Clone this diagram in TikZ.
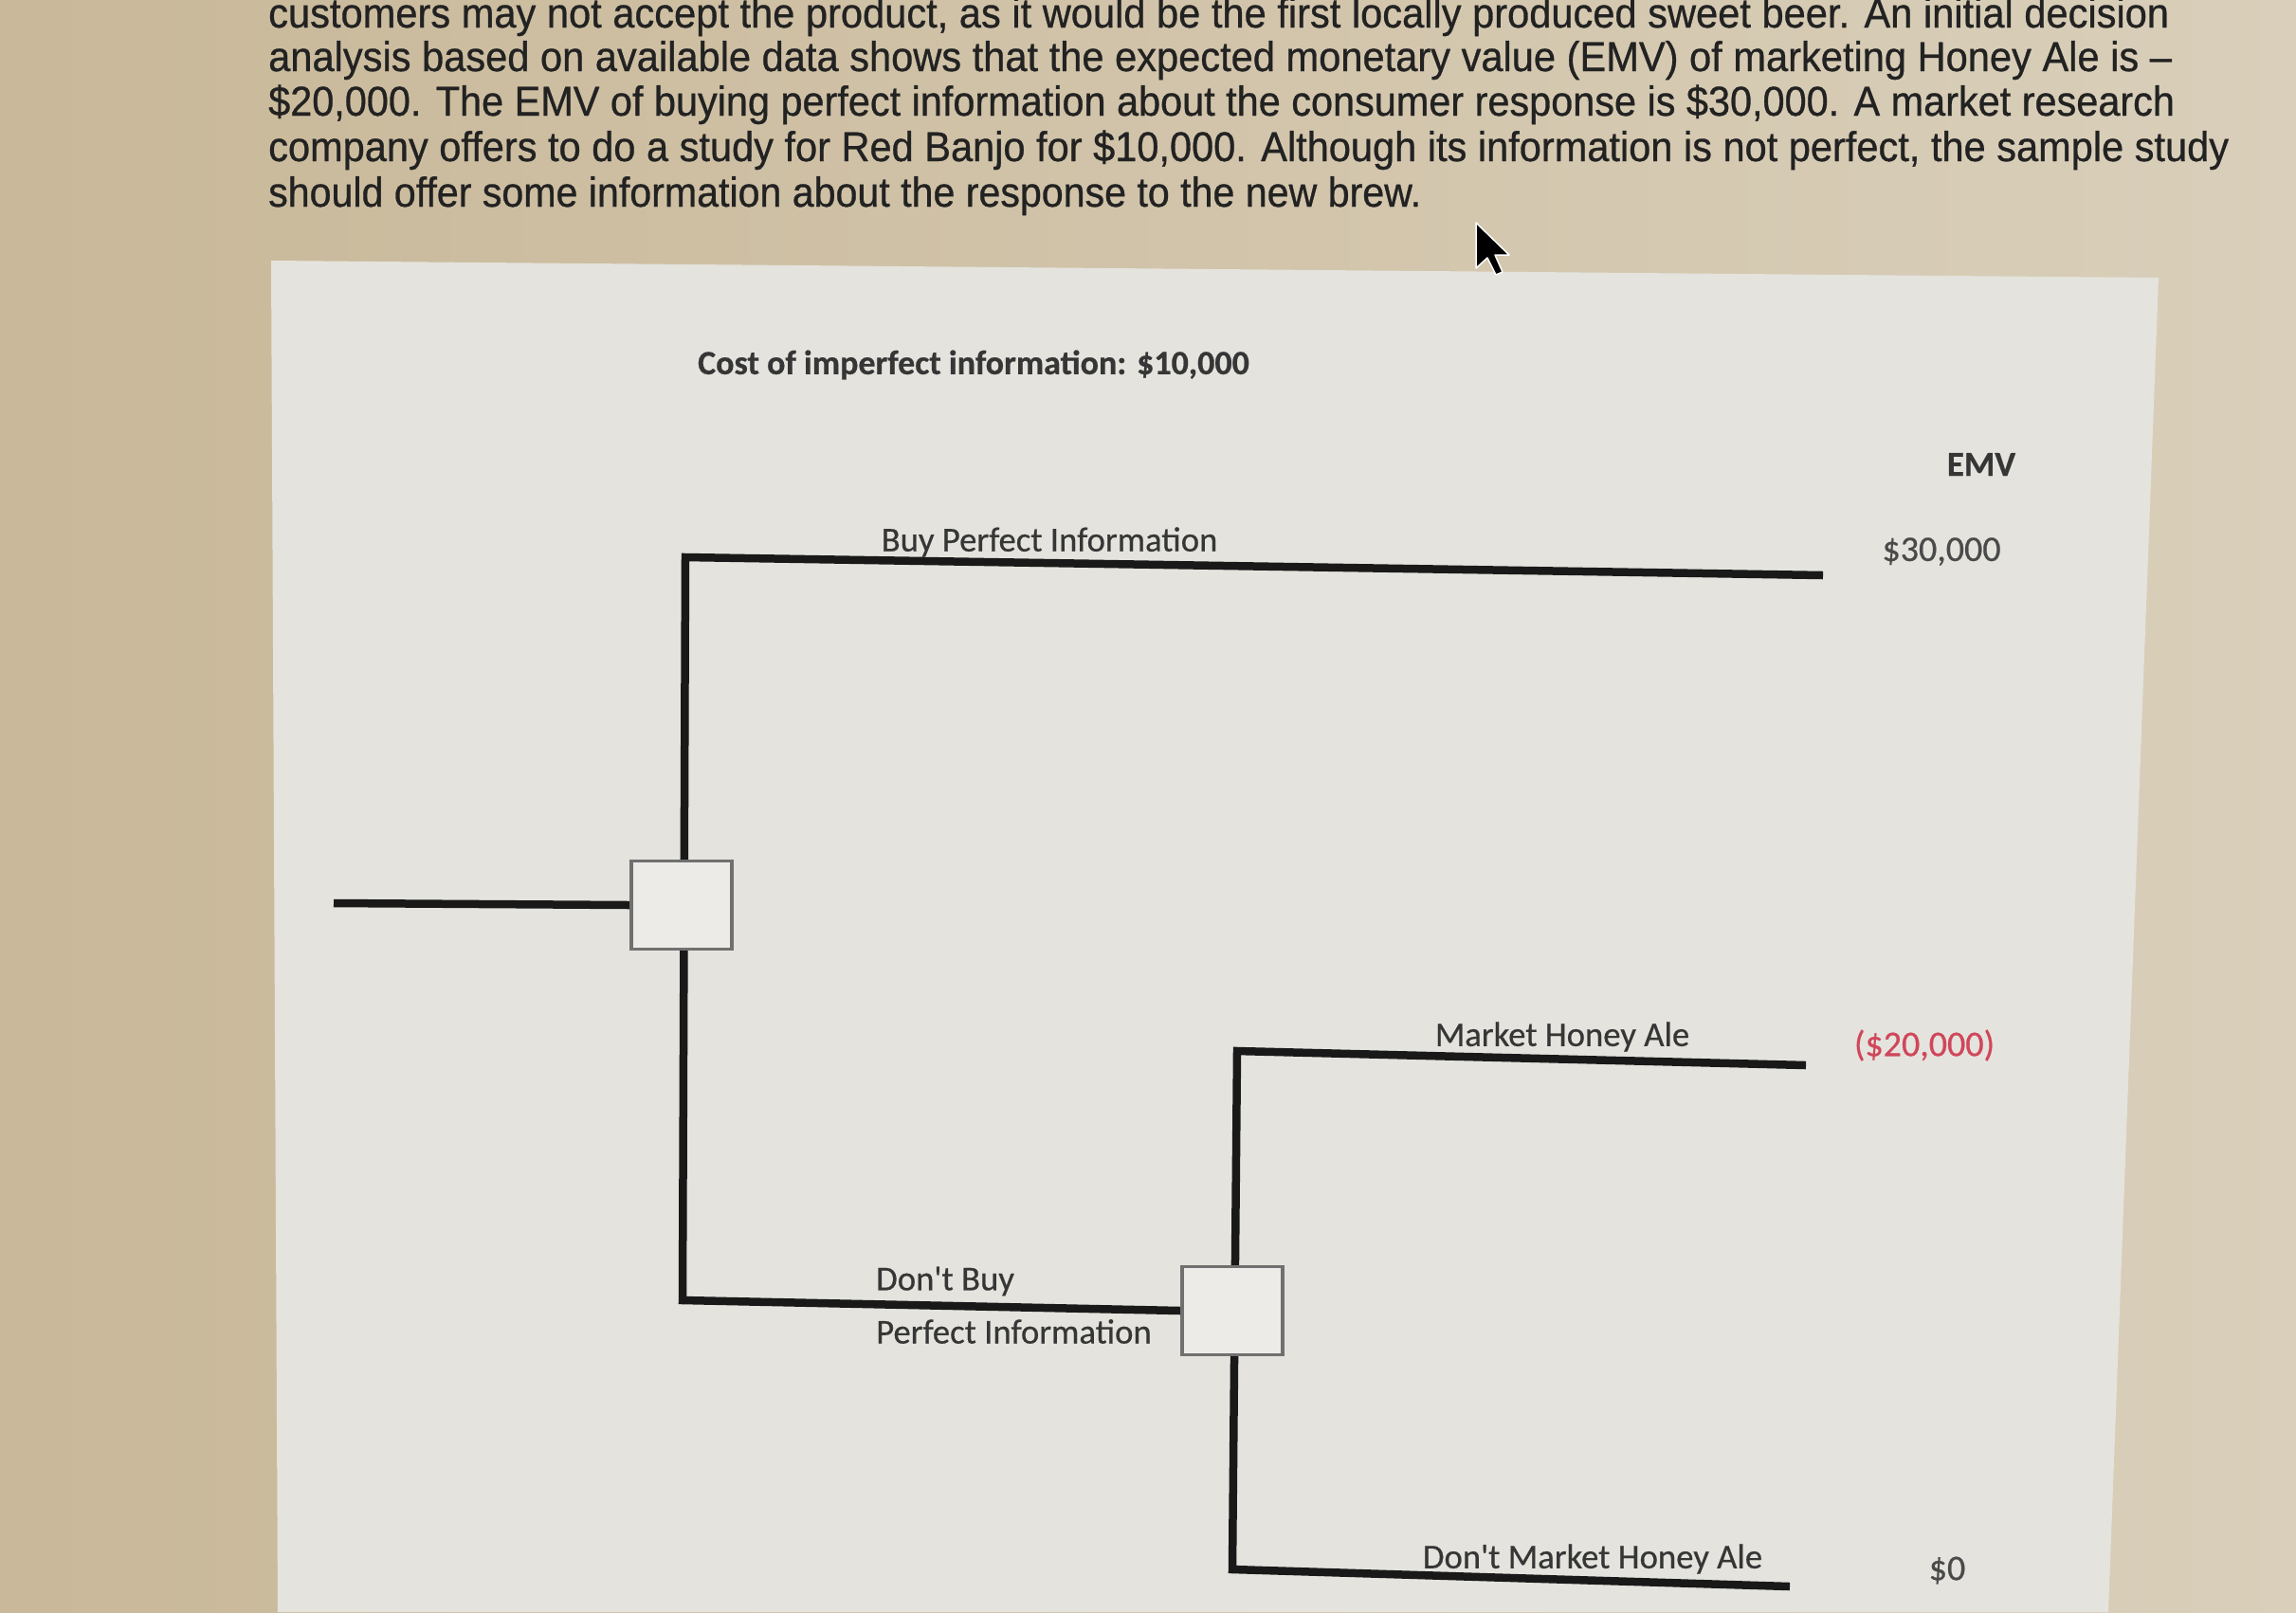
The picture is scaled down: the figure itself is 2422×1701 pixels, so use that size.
\documentclass[tikz,border=0pt]{standalone}
\usepackage{fontspec}
\usepackage{graphicx}
\setmainfont{Liberation Sans}
\newfontfamily\parafont{Liberation Sans}[FakeBold=0.7]
\newfontfamily\calfont{Carlito}[FakeBold=0.5]
\definecolor{bgtan}{HTML}{C9B899}
\definecolor{bgtanlight}{HTML}{D9CFBA}
\definecolor{panelfill}{HTML}{E4E3DD}
\definecolor{boxfill}{HTML}{ECEBE7}
\definecolor{boxedge}{HTML}{707070}
\definecolor{textdark}{HTML}{222222}
\definecolor{labelgrey}{HTML}{363636}
\definecolor{valgrey}{HTML}{4A4A4A}
\definecolor{valred}{HTML}{D0465A}
\tikzset{
  paraline/.style={anchor=base west, inner sep=0pt, text=textdark, font=\parafont\fontsize{44}{46}\selectfont},
  branch/.style={line width=8.5pt, draw=black!90, line join=miter},
  decbox/.style={draw=boxedge, line width=3.5pt, fill=boxfill, minimum width=106pt, minimum height=93pt, inner sep=0pt},
  treelabel/.style={inner sep=0pt, text=labelgrey, font=\calfont\fontsize{36.7}{40}\selectfont},
  costlabel/.style={inner sep=0pt, text=labelgrey, font=\calfont\bfseries\fontsize{36}{40}\selectfont},
  emvval/.style={inner sep=0pt, text=valgrey, font=\calfont\fontsize{38}{40}\selectfont},
}
\begin{document}
\begin{tikzpicture}[x=1pt,y=-1pt]
\useasboundingbox (0,0) rectangle (2422,1701);
\clip (0,0) rectangle (2422,1701);
% background
\shade[left color=bgtan, right color=bgtanlight] (0,0) rectangle (2422,1701);
% panel
\fill[panelfill] (286,275) -- (2277,293) -- (2224,1701) -- (293,1701) -- cycle;
% paragraph
\node[paraline] (p1) at (283,29) {\resizebox{2005pt}{\height}{customers may not accept the product, as it would be the first locally produced sweet beer. An initial decision}};
\node[paraline] (p2) at (283,75) {\resizebox{2008pt}{\height}{analysis based on available data shows that the expected monetary value (EMV) of marketing Honey Ale is –}};
\node[paraline] (p3) at (283,122) {\resizebox{2011pt}{\height}{\$20,000. The EMV of buying perfect information about the consumer response is \$30,000. A market research}};
\node[paraline] (p4) at (283,170) {\resizebox{2068pt}{\height}{company offers to do a study for Red Banjo for \$10,000. Although its information is not perfect, the sample study}};
\node[paraline] (p5) at (283,218) {\resizebox{1216pt}{\height}{should offer some information about the response to the new brew.}};
% cursor
\filldraw[fill=black, draw=white, line width=1.5pt, line join=round]
  (1557,235) -- (1557,283) -- (1569,272) -- (1578,290) -- (1585,287) -- (1577,269) -- (1592,269) -- cycle;
% cost label
\node[costlabel] (cost) at (1027,385) {Cost of imperfect information: \$10,000};
% tree coordinates
\coordinate (start) at (352,953);
\coordinate (t1) at (723,588);
\coordinate (e1) at (1923,607);
\coordinate (b1) at (720,1372);
\coordinate (t2) at (1305,1109);
\coordinate (e2) at (1905,1124);
\coordinate (b2) at (1300,1656);
\coordinate (e3) at (1888,1674);
% boxes (positions)
\path (719,955) node[decbox, draw=none, fill=none] (d1) {};
\path (1300,1383) node[decbox, draw=none, fill=none] (d2) {};
% branches
\draw[branch] (start) -- (d1.west);
\draw[branch] (e1) -- (t1) -- (b1) -- (d2.west);
\draw[branch] (e2) -- (t2) -- (b2) -- (e3);
% boxes drawn on top
\node[decbox] (d1box) at (d1) {};
\node[decbox] (d2box) at (d2) {};
% labels
\node[treelabel] (lbuy) at (1107,572) {Buy Perfect Information};
\node[treelabel, anchor=west] (ldont1) at (924,1352) {Don't Buy};
\node[treelabel, anchor=west] (ldont2) at (924,1405) {Perfect Information};
\node[treelabel] (lmarket) at (1648,1094) {Market Honey Ale};
\node[treelabel] (lnomarket) at (1680,1645) {Don't Market Honey Ale};
% EMV column
\node[costlabel, font=\calfont\bfseries\fontsize{37}{40}\selectfont] (emv) at (2090,490) {EMV};
\node[emvval] (v1) at (2048,582) {\$30,000};
\node[emvval, text=valred] (v2) at (2030,1103) {(\$20,000)};
\node[emvval] (v3) at (2054,1657) {\$0};
\end{tikzpicture}
\end{document}
